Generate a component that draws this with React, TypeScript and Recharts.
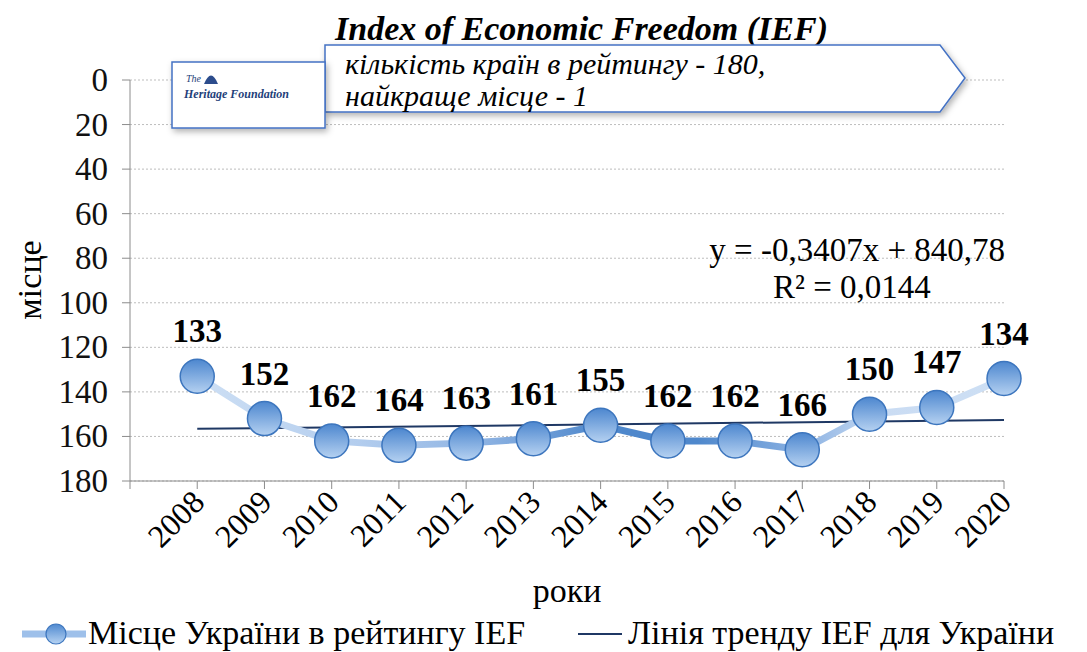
import React from 'react';
import {
  LineChart,
  Line,
  XAxis,
  YAxis,
  CartesianGrid,
  LabelList,
  Legend,
} from 'recharts';

// Ranks (first slot is the blank category Excel leaves at the axis start)
const years = ['', '2008', '2009', '2010', '2011', '2012', '2013', '2014', '2015', '2016', '2017', '2018', '2019', '2020'];
const ranks = [null, 133, 152, 162, 164, 163, 161, 155, 162, 162, 166, 150, 147, 134];
// trend line end points as drawn
const trend = [null, 156.6, null, null, null, null, null, null, null, null, null, null, null, 152.6];
const yTicks = [0, 20, 40, 60, 80, 100, 120, 140, 160, 180];

const data = years.map((year, i) => ({ year, rank: ranks[i], trend: trend[i] }));

const FONT = 'Liberation Serif, Times New Roman, serif';

const RankDot = (props: any) => {
  const { cx, cy, value } = props;
  if (value == null || cx == null || cy == null) return null;
  return <circle cx={cx} cy={cy} r={17} fill="url(#dotGrad)" stroke="#3d76be" strokeWidth={1.5} />;
};

const RankLabel = (props: any) => {
  const { x, y, value } = props;
  if (value == null) return null;
  return (
    <text x={x} y={y - 34} textAnchor="middle" fontFamily={FONT} fontWeight="bold" fontSize={33} fill="#000">
      {value}
    </text>
  );
};

const YearTick = (props: any) => {
  const { x, y, payload } = props;
  if (!payload.value) return null;
  const ax = x + 9;
  const ay = y + 13;
  return (
    <text x={ax} y={ay} textAnchor="end" fontFamily={FONT} fontSize={32} fill="#000" transform={`rotate(-45, ${ax}, ${ay})`}>
      {payload.value}
    </text>
  );
};

const RankTick = (props: any) => {
  const { x, y, payload } = props;
  return (
    <text x={x} y={y + 11} textAnchor="end" fontFamily={FONT} fontSize={33} fill="#111">
      {payload.value}
    </text>
  );
};

const LegendContent = () => (
  <svg width={1087} height={40} style={{ display: 'block', overflow: 'visible' }}>
    <defs>
      <linearGradient id="dotGradL" x1="0" y1="0" x2="0" y2="1">
        <stop offset="0" stopColor="#4f89d0" />
        <stop offset="1" stopColor="#b7d3f2" />
      </linearGradient>
    </defs>
    <line x1={22} y1={22} x2={86} y2={22} stroke="#9ec0ea" strokeWidth={7} />
    <circle cx={56} cy={22} r={10} fill="url(#dotGradL)" stroke="#3d76be" strokeWidth={1.2} />
    <text x={88} y={32} fontFamily={FONT} fontSize={34} fill="#000">Місце України в рейтингу IEF</text>
    <line x1={578} y1={22} x2={622} y2={22} stroke="#1f3864" strokeWidth={2} />
    <text x={628} y={32} fontFamily={FONT} fontSize={34} fill="#000">Лінія тренду IEF для України</text>
  </svg>
);

export default function App() {
  return (
    <div style={{ position: 'absolute', left: 0, top: 0, width: 1087, height: 652, background: '#fff', fontFamily: FONT }}>
      <LineChart width={1087} height={652} data={data} margin={{ top: 80, right: 83, left: 0, bottom: 0 }}>
        <defs>
          <linearGradient id="dotGrad" x1="0" y1="0" x2="0" y2="1">
            <stop offset="0" stopColor="#4d87cf" />
            <stop offset="1" stopColor="#b5d1f1" />
          </linearGradient>
          <linearGradient id="lineGrad" x1="0" y1="0" x2="1" y2="0">
            <stop offset="0" stopColor="#cddff4" />
            <stop offset="0.2" stopColor="#b3cdee" />
            <stop offset="0.35" stopColor="#8fb4e3" />
            <stop offset="0.5" stopColor="#4f88cc" />
            <stop offset="0.62" stopColor="#4f88cc" />
            <stop offset="0.75" stopColor="#8ab1e2" />
            <stop offset="0.85" stopColor="#cadcf3" />
            <stop offset="1" stopColor="#cddff4" />
          </linearGradient>
        </defs>
        <CartesianGrid vertical={false} stroke="#bdbdbd" strokeDasharray="2 2" />
        <XAxis
          dataKey="year"
          interval={0}
          height={131}
          stroke="#8c8c8c"
          tickSize={8}
          tick={<YearTick />}
          label={{ value: 'роки', position: 'insideBottom', offset: 10, fontFamily: FONT, fontSize: 34, fill: '#000' }}
        />
        <YAxis
          reversed
          domain={[0, 180]}
          ticks={yTicks}
          interval={0}
          width={130}
          stroke="#8c8c8c"
          tickSize={8}
          tickMargin={14}
          tick={<RankTick />}
        />
        <Legend verticalAlign="bottom" height={40} content={<LegendContent />} />
        <Line
          dataKey="trend"
          connectNulls
          stroke="#1f3864"
          strokeWidth={2}
          dot={false}
          isAnimationActive={false}
        />
        <Line
          dataKey="rank"
          stroke="url(#lineGrad)"
          strokeWidth={7}
          dot={<RankDot />}
          activeDot={false}
          isAnimationActive={false}
        >
          <LabelList dataKey="rank" content={<RankLabel />} />
        </Line>
      </LineChart>

      <svg width={1087} height={652} style={{ position: 'absolute', left: 0, top: 0, pointerEvents: 'none' }}>
        <defs>
          <filter id="shadow" x="-10%" y="-20%" width="120%" height="150%">
            <feDropShadow dx="2" dy="3" stdDeviation="3" floodColor="#000" floodOpacity="0.3" />
          </filter>
        </defs>
        <text x={41} y={280} textAnchor="middle" fontFamily={FONT} fontSize={34} fill="#000" transform="rotate(-90, 41, 280)">
          місце
        </text>
        <text x={335} y={40} fontFamily={FONT} fontStyle="italic" fontWeight="bold" fontSize={34} fill="#000">
          Index of Economic Freedom (IEF)
        </text>
        <polygon points="325,45 940,45 965,78 940,112 325,112" fill="#fff" stroke="#4472c4" strokeWidth={1.5} filter="url(#shadow)" />
        <text x={345} y={74} fontFamily={FONT} fontStyle="italic" fontSize={30} fill="#000">
          кількість країн в рейтингу - 180,
        </text>
        <text x={345} y={106} fontFamily={FONT} fontStyle="italic" fontSize={30} fill="#000">
          найкраще місце - 1
        </text>
        <rect x={172} y={62} width={153} height={66} fill="#fff" stroke="#4472c4" strokeWidth={1.5} filter="url(#shadow)" />
        <text x={186} y={82} fontFamily={FONT} fontStyle="italic" fontSize={10} fill="#1f3f7a">The</text>
        <path d="M204 84 q7 -17 14 0 z" fill="#2c4c8c" />
        <text x={184} y={98} fontFamily={FONT} fontStyle="italic" fontWeight="bold" fontSize={12} fill="#1f3f7a">Heritage Foundation</text>
        <text x={1005} y={261} textAnchor="end" fontFamily={FONT} fontSize={33} fill="#000">
          y = -0,3407x + 840,78
        </text>
        <text x={852} y={298} textAnchor="middle" fontFamily={FONT} fontSize={33} fill="#000">
          R² = 0,0144
        </text>
      </svg>
    </div>
  );
}
